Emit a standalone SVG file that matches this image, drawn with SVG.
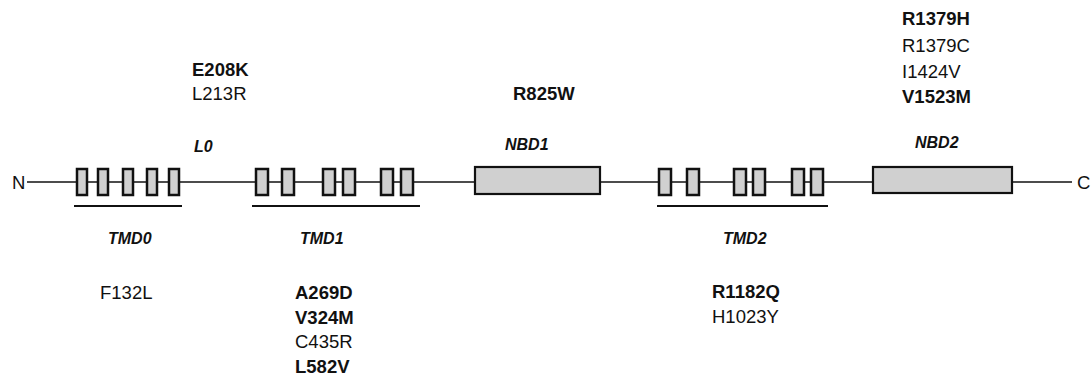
<svg xmlns="http://www.w3.org/2000/svg" width="1091" height="381" viewBox="0 0 1091 381">
<style>
.t{font-family:"Liberation Sans",Arial,sans-serif;font-size:18.5px;fill:#111}
.b{font-weight:bold}
.d{font-family:"Liberation Sans",Arial,sans-serif;font-size:16px;font-weight:bold;font-style:italic;fill:#111}
.tm{fill:#d0d0d0;stroke:#111;stroke-width:2.5}
.nb{fill:#d0d0d0;stroke:#111;stroke-width:2.2}
.ln{stroke:#111;stroke-width:1.6;fill:none}
.ul{stroke:#111;stroke-width:2;fill:none}
</style>
<rect width="1091" height="381" fill="#fff"/>
<g id="connectors">
<line class="ln" x1="27" y1="182" x2="1072" y2="182"/>
<line class="ul" x1="74" y1="206" x2="182" y2="206"/>
<line class="ul" x1="252" y1="206" x2="420" y2="206"/>
<line class="ul" x1="657" y1="206" x2="828" y2="206"/>
</g>
<g id="N"><text class="t" x="12" y="189" font-size="17">N</text></g>
<g id="C"><text class="t" x="1077" y="189" font-size="17">C</text></g>
<g id="TMD0">
<rect class="tm" x="77" y="169" width="10" height="26"/>
<rect class="tm" x="98" y="169" width="10" height="26"/>
<rect class="tm" x="123" y="169" width="10" height="26"/>
<rect class="tm" x="147" y="169" width="10" height="26"/>
<rect class="tm" x="169" y="169" width="10" height="26"/>
<text class="d" x="108" y="244">TMD0</text>
<text class="t" x="100" y="299">F132L</text>
</g>
<g id="L0">
<text class="d" x="194" y="152">L0</text>
<text class="t b" x="192" y="76">E208K</text>
<text class="t" x="192" y="100">L213R</text>
</g>
<g id="TMD1">
<rect class="tm" x="256" y="169" width="12" height="26"/>
<rect class="tm" x="282" y="169" width="12" height="26"/>
<rect class="tm" x="323" y="169" width="12" height="26"/>
<rect class="tm" x="343" y="169" width="12" height="26"/>
<rect class="tm" x="381" y="169" width="12" height="26"/>
<rect class="tm" x="401" y="169" width="12" height="26"/>
<text class="d" x="300" y="244">TMD1</text>
<text class="t b" x="295" y="299">A269D</text>
<text class="t b" x="295" y="324">V324M</text>
<text class="t" x="295" y="348">C435R</text>
<text class="t b" x="295" y="373">L582V</text>
</g>
<g id="NBD1">
<rect class="nb" x="475" y="167" width="125" height="27"/>
<text class="d" x="505" y="150">NBD1</text>
<text class="t b" x="513" y="100">R825W</text>
</g>
<g id="TMD2">
<rect class="tm" x="659" y="169" width="12" height="26"/>
<rect class="tm" x="687" y="169" width="12" height="26"/>
<rect class="tm" x="734" y="169" width="12" height="26"/>
<rect class="tm" x="753" y="169" width="12" height="26"/>
<rect class="tm" x="792" y="169" width="12" height="26"/>
<rect class="tm" x="811" y="169" width="12" height="26"/>
<text class="d" x="723" y="244">TMD2</text>
<text class="t b" x="712" y="298">R1182Q</text>
<text class="t" x="712" y="323">H1023Y</text>
</g>
<g id="NBD2">
<rect class="nb" x="873" y="167" width="139" height="26"/>
<text class="d" x="915" y="148">NBD2</text>
<text class="t b" x="902" y="25">R1379H</text>
<text class="t" x="902" y="52">R1379C</text>
<text class="t" x="902" y="78">I1424V</text>
<text class="t b" x="902" y="103">V1523M</text>
</g>
</svg>
